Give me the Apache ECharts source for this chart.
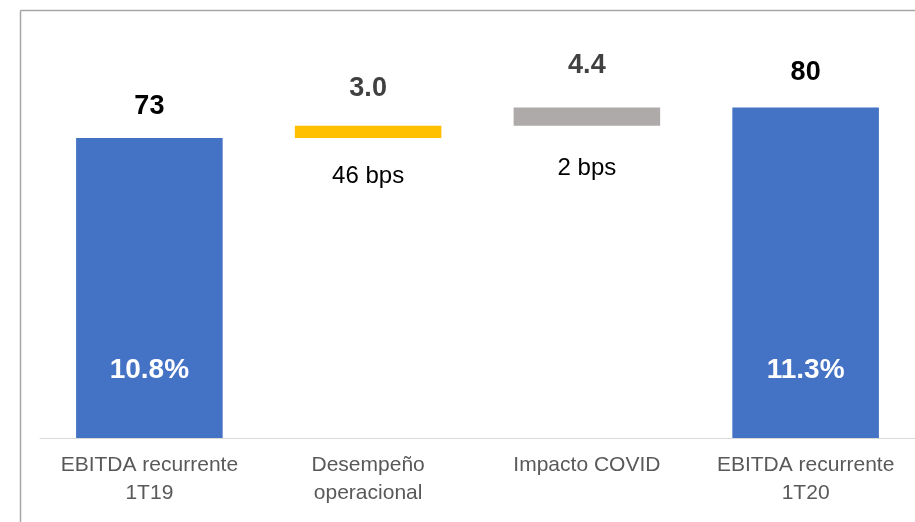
<!DOCTYPE html>
<html>
<head>
<meta charset="utf-8">
<script src="https://cdn.jsdelivr.net/npm/echarts@6/dist/echarts.min.js"></script>
<style>
  html, body { margin: 0; padding: 0; background: #fff; }
  #chart { width: 915px; height: 522px; }
</style>
</head>
<body>
<div id="chart"></div>
<script>
// datos del puente de EBITDA
const categories = ['EBITDA recurrente\n1T19', 'Desempeño\noperacional', 'Impacto COVID', 'EBITDA recurrente\n1T20'];
const values = [73, 3.0, 4.4, 80.4];
const valueLabels = ['73', '3.0', '4.4', '80'];
const marginLabels = ['10.8%', '', '', '11.3%'];
const bpsLabels = ['', '46 bps', '2 bps', ''];
const isTotal = [true, false, false, true];

const barColors = ['#4472C4', '#FFC000', '#AEAAAA', '#4472C4'];
const topDistance = [18, 24, 29, 22];
const bpsDistance = [0, 26, 31, 0];

// base invisible para las barras flotantes
let running = 0;
const base = values.map((v, i) => {
  if (isTotal[i]) { running = v; return 0; }
  const b = running;
  running += v;
  return b;
});

const font = 'Liberation Sans, Arial, sans-serif';
const chart = echarts.init(document.getElementById('chart'));

chart.setOption({
  animation: false,
  grid: { left: 40, right: 0, top: 27, bottom: 84 },
  xAxis: {
    type: 'category',
    data: categories,
    axisLine: { lineStyle: { color: '#d9d9d9', width: 1 } },
    axisTick: { show: false },
    axisLabel: { color: '#595959', fontSize: 21, lineHeight: 28, margin: 13, fontFamily: font, interval: 0 }
  },
  yAxis: { type: 'value', min: 0, max: 100, show: false, splitLine: { show: false } },
  graphic: [
    { type: 'line', shape: { x1: 20.5, y1: 10.5, x2: 915, y2: 10.5 }, style: { stroke: '#a6a6a6', lineWidth: 1.5 } },
    { type: 'line', shape: { x1: 20.5, y1: 10.5, x2: 20.5, y2: 522 }, style: { stroke: '#a6a6a6', lineWidth: 1.5 } }
  ],
  series: [
    {
      type: 'bar',
      stack: 'wf',
      barWidth: '67%',
      barGap: '-100%',
      itemStyle: { color: 'transparent' },
      data: base.map((b, i) => ({
        value: b,
        label: {
          show: bpsLabels[i] !== '',
          position: 'insideTop',
          distance: bpsDistance[i],
          formatter: bpsLabels[i],
          color: '#000',
          fontSize: 24,
          fontFamily: font
        }
      }))
    },
    {
      type: 'bar',
      stack: 'wf',
      barWidth: '67%',
      barGap: '-100%',
      data: values.map((v, i) => ({
        value: v,
        itemStyle: { color: barColors[i] },
        label: {
          show: true,
          position: 'top',
          distance: topDistance[i],
          formatter: valueLabels[i],
          color: isTotal[i] ? '#000' : '#404040',
          fontSize: 27,
          fontWeight: 'bold',
          fontFamily: font
        }
      }))
    },
    {
      type: 'bar',
      stack: 'pct',
      barWidth: '67%',
      barGap: '-100%',
      itemStyle: { color: 'transparent' },
      silent: true,
      data: values.map((v, i) => ({
        value: isTotal[i] ? v : 0,
        label: {
          show: marginLabels[i] !== '',
          position: 'insideBottom',
          distance: 54,
          formatter: marginLabels[i],
          color: '#fff',
          fontSize: 28,
          fontWeight: 'bold',
          fontFamily: font
        }
      }))
    }
  ]
});
</script>
</body>
</html>
